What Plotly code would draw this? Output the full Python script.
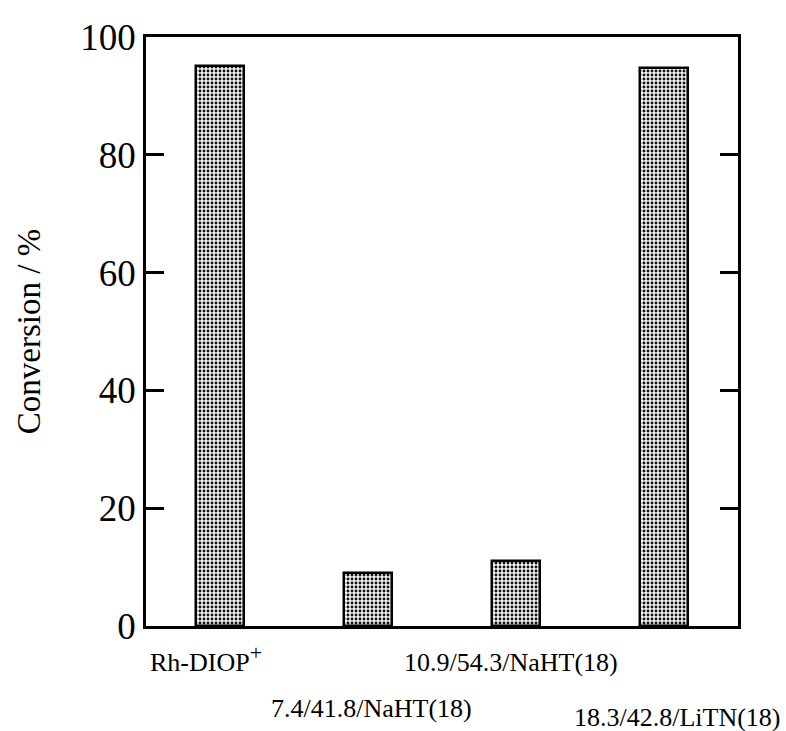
import plotly.graph_objects as go

categories = ["Rh-DIOP<sup><span style='font-size:22px'>+</span></sup>", "7.4/41.8/NaHT(18)",
              "10.9/54.3/NaHT(18)", "18.3/42.8/LiTN(18)"]
conversion = [95.0, 9.0, 11.0, 94.7]
y_tick_values = [0, 20, 40, 60, 80, 100]
y_tick_labels = ["0", "20", "40", "60", "80", "100"]
y_title = "Conversion / %"

positions = list(range(len(categories)))

fig = go.Figure()
fig.add_trace(go.Bar(
    x=positions,
    y=conversion,
    width=0.32,
    marker=dict(
        color="white",
        line=dict(color="black", width=2.5),
        pattern=dict(shape=".", fgcolor="#111111", bgcolor="#f4f4f4",
                     size=4, solidity=0.4, fillmode="replace"),
    ),
    showlegend=False,
    hoverinfo="skip",
))

# staggered category labels below the axis
label_shift_x = [-14, 3, -5, 13]
label_shift_y = [-32, -82, -36, -91]
annotations = []
for i, lab in enumerate(categories):
    annotations.append(dict(
        x=positions[i], y=0, xref="x", yref="paper",
        text=lab, showarrow=False,
        xanchor="center", yanchor="middle",
        xshift=label_shift_x[i], yshift=label_shift_y[i],
        font=dict(family="Liberation Serif", size=26, color="black"),
    ))

fig.update_layout(
    width=786, height=731,
    paper_bgcolor="white", plot_bgcolor="white",
    margin=dict(l=146, r=48, t=37, b=105, autoexpand=False),
    font=dict(family="Liberation Serif", color="black"),
    bargap=0,
    annotations=annotations,
    xaxis=dict(
        range=[-0.5, 3.5],
        showline=True, linecolor="black", linewidth=2.5, mirror=True,
        showticklabels=False, ticks="", showgrid=False, zeroline=False,
        fixedrange=True,
    ),
    yaxis=dict(
        range=[0, 100],
        tickvals=y_tick_values, ticktext=y_tick_labels,
        ticks="inside", ticklen=18, tickwidth=2.5, tickcolor="black",
        showline=True, linecolor="black", linewidth=2.5, mirror="ticks",
        showgrid=False, zeroline=False,
        tickfont=dict(family="Liberation Serif", size=37, color="black"),
        ticklabelstandoff=0,
        title=dict(text=y_title, standoff=30,
                   font=dict(family="Liberation Serif", size=33, color="black")),
        fixedrange=True,
    ),
)

fig.write_html("out.html", config={"displayModeBar": False},
               post_script="document.body.style.margin='0';")
